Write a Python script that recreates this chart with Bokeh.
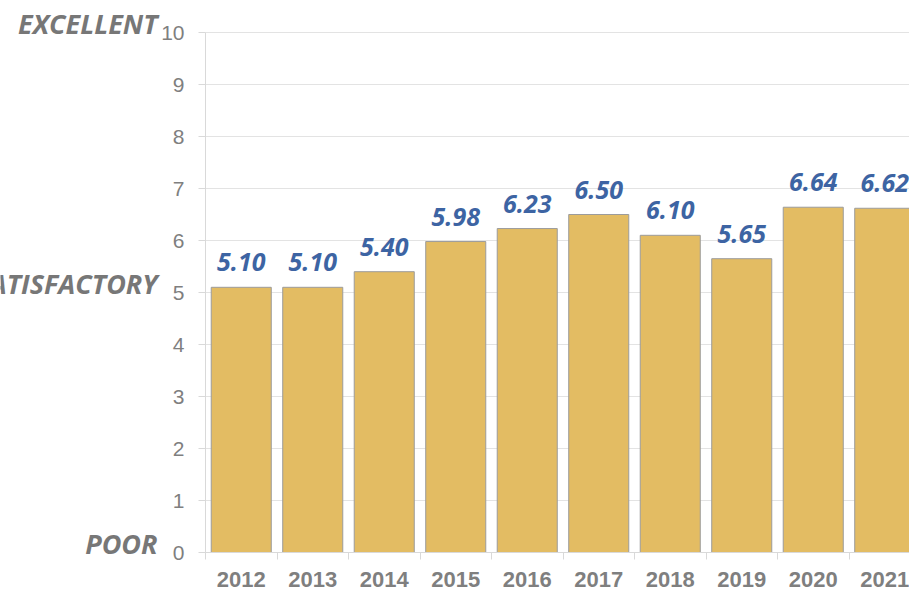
from bokeh.plotting import figure
from bokeh.models import Range1d, FixedTicker, LinearAxis, ColumnDataSource
from bokeh.core.properties import value
from bokeh.embed import file_html
from bokeh.resources import INLINE

# ---- data ----
years = ["2012", "2013", "2014", "2015", "2016", "2017", "2018", "2019", "2020", "2021"]
scores = [5.10, 5.10, 5.40, 5.98, 6.23, 6.50, 6.10, 5.65, 6.64, 6.62]
y_ticks = [0, 1, 2, 3, 4, 5, 6, 7, 8, 9, 10]
rating_names = ["EXCELLENT", "SATISFACTORY", "POOR"]
rating_levels = [10, 5, 0]

# ---- layout ----
W, H = 909, 592
AXIS_X_PX, TOP_PX, BOTTOM_PX = 205, 32, 40
PX_PER_CAT = 71.5
PX_PER_UNIT = (H - TOP_PX - BOTTOM_PX) / 10.0
y_start = -BOTTOM_PX / PX_PER_UNIT
y_end = 10 + TOP_PX / PX_PER_UNIT
x_start = -0.5 - AXIS_X_PX / PX_PER_CAT
x_end = -0.5 + (W - AXIS_X_PX) / PX_PER_CAT
name_shift = 9 / PX_PER_UNIT  # names sit a little above their level

xs = list(range(len(years)))
src = ColumnDataSource(dict(
    x=xs,
    top=scores,
    label=["%.2f" % s for s in scores],
))

p = figure(width=W, height=H,
           x_range=Range1d(x_start, x_end), y_range=Range1d(y_start, y_end),
           output_backend="svg", toolbar_location=None,
           min_border_left=0, min_border_right=0,
           min_border_top=0, min_border_bottom=0)
p.outline_line_color = None
p.background_fill_color = "white"
p.border_fill_color = "white"
p.extra_y_ranges = {"names": Range1d(y_start - name_shift, y_end - name_shift)}

p.vbar(x="x", top="top", bottom=0, width=0.84, source=src,
       fill_color="#E3BC63", line_color="#9c9c9c", line_width=1)

p.text(x="x", y="top", text="label", source=src,
       text_align="center", text_baseline="middle", y_offset=-25,
       text_font=value("Open Sans"), text_font_style="bold italic",
       text_font_size="25px", text_color="#3D64A3")

# axes
grey = "#d9d9d9"
yt = FixedTicker(ticks=y_ticks)
p.yaxis.ticker = yt
p.yaxis.fixed_location = -0.5
p.yaxis.bounds = (0, 10)
p.ygrid.ticker = yt
p.ygrid.cross_bounds = (-0.5, x_end)
p.ygrid.grid_line_color = "#e3e3e3"
p.xgrid.visible = False
p.yaxis.axis_line_color = grey
p.yaxis.major_tick_line_color = grey
p.yaxis.major_tick_out = 7
p.yaxis.major_tick_in = 0
p.yaxis.minor_tick_line_color = None
p.yaxis.major_label_standoff = 14
p.yaxis.major_label_text_font = "Liberation Sans"
p.yaxis.major_label_text_font_size = "21px"
p.yaxis.major_label_text_color = "#7f7f7f"

xt = FixedTicker(ticks=xs, minor_ticks=[i - 0.5 for i in range(len(years) + 1)])
p.xaxis.ticker = xt
p.xaxis.fixed_location = 0
p.xaxis.bounds = (-0.5, x_end)
p.xaxis.major_label_overrides = {i: y for i, y in zip(xs, years)}
p.xaxis.axis_line_color = grey
p.xaxis.major_tick_line_color = None
p.xaxis.major_tick_out = 0
p.xaxis.major_tick_in = 0
p.xaxis.minor_tick_line_color = grey
p.xaxis.minor_tick_out = 7
p.xaxis.minor_tick_in = 0
p.xaxis.major_label_standoff = 12
p.xaxis.major_label_text_font = "Liberation Sans"
p.xaxis.major_label_text_font_style = "bold"
p.xaxis.major_label_text_font_size = "22px"
p.xaxis.major_label_text_color = "#7f7f7f"

# rating names: a second left axis pinned left of the numeric axis
name_axis = LinearAxis(
    y_range_name="names",
    ticker=FixedTicker(ticks=rating_levels),
    major_label_overrides={lvl: n for lvl, n in zip(rating_levels, rating_names)},
    fixed_location=-0.5 - 48 / PX_PER_CAT,
    axis_line_color=None, major_tick_line_color=None, minor_tick_line_color=None,
    major_tick_out=0, major_tick_in=0, major_label_standoff=0,
    major_label_text_font="Open Sans", major_label_text_font_style="bold italic",
    major_label_text_font_size="27px", major_label_text_color="#777777",
)
p.add_layout(name_axis, "left")

open("out.html", "w").write(file_html(p, INLINE))
